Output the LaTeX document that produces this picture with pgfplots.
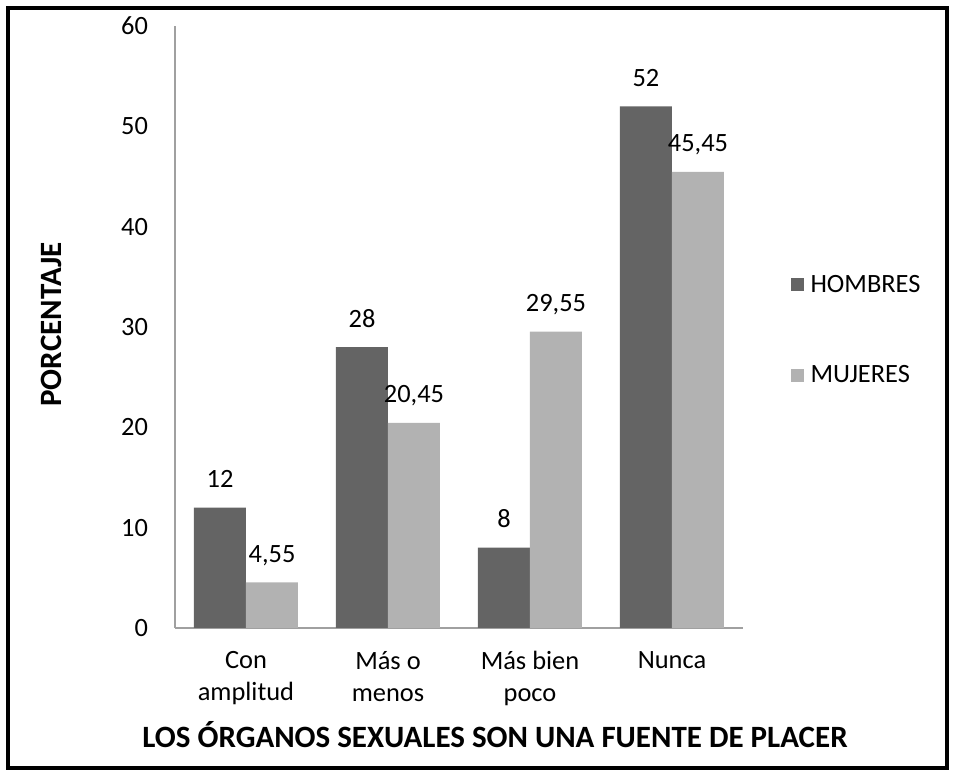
\documentclass[border=0pt]{standalone}
\usepackage{pgfplots}
\pgfplotsset{compat=1.18}
\usepackage{fontspec}
\setmainfont{Carlito}
\definecolor{hom}{HTML}{646464}
\definecolor{muj}{HTML}{B2B2B2}
\definecolor{axc}{HTML}{A0A0A0}
\begin{document}
\begin{tikzpicture}[x=1pt,y=1pt]
\useasboundingbox (0,0) rectangle (477.5,388);
\draw[line width=2pt] (4,4) rectangle (473.5,384);
\begin{axis}[
  at={(87.5pt,74pt)}, anchor=south west,
  scale only axis, width=284pt, height=301pt,
  ybar=0pt, bar width=26pt,
  xmin=-0.5, xmax=3.5, ymin=0, ymax=60,
  xtick={0,1,2,3},
  xticklabels={{Con\\amplitud},{Más o\\menos},{Más bien\\poco},{Nunca}},
  ytick={0,10,...,60},
  axis lines*=left,
  axis line style={draw=axc, line width=0.8pt},
  major tick length=0pt,
  tick style={draw=none},
  font=\fontsize{13.2}{16}\selectfont,
  /pgf/number format/assume math mode=true,
  yticklabel style={xshift=-10pt},
  xticklabel style={align=center, yshift=-8pt, font=\fontsize{13.2}{16}\selectfont},
  nodes near coords,
  nodes near coords style={anchor=base, yshift=10pt, font=\fontsize{13.2}{16}\selectfont, /pgf/number format/.cd, use comma, 1000 sep={}, assume math mode=true},
  legend style={at={(1.083,0.495)}, anchor=west, draw=none, fill=none,
    font=\fontsize{13.2}{16}\selectfont, row sep=31pt, inner sep=0pt,
    /tikz/every odd column/.append style={column sep=1.5pt}},
  legend cell align=left,
  legend image code/.code={\fill[#1] (0pt,-3.25pt) rectangle (6.5pt,3.25pt);},
]
\addplot[fill=hom, draw=none] coordinates {(0,12) (1,28) (2,8) (3,52)};
\addplot[fill=muj, draw=none] coordinates {(0,4.55) (1,20.45) (2,29.55) (3,45.45)};
\legend{HOMBRES,MUJERES}
\end{axis}
\node[rotate=90, anchor=base, font=\bfseries\fontsize{15.5}{18}\selectfont] at (31,225.75) {PORCENTAJE};
\node[anchor=base, font=\bfseries\fontsize{15.5}{18}\selectfont] at (247.5,14) {LOS ÓRGANOS SEXUALES SON UNA FUENTE DE PLACER};
\end{tikzpicture}
\end{document}
